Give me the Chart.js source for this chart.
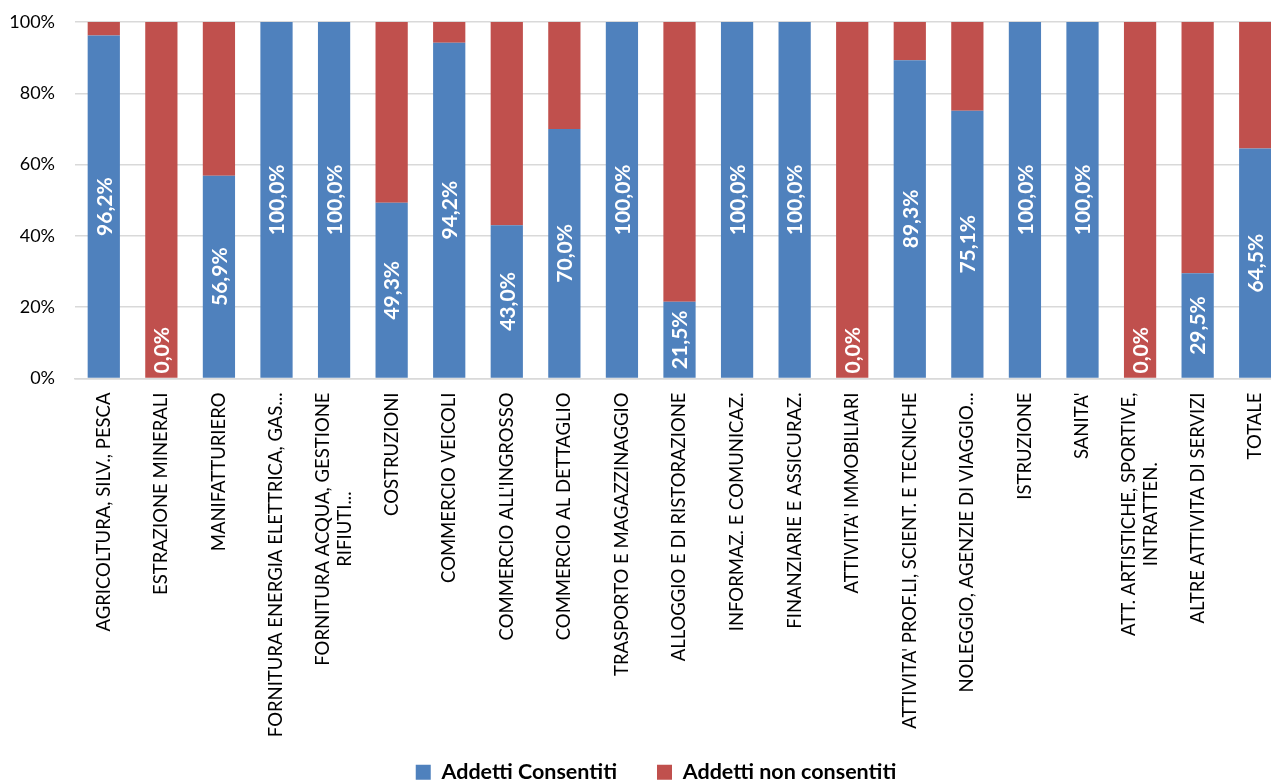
<!DOCTYPE html>
<html>
<head>
<meta charset="utf-8">
<script src="https://cdn.jsdelivr.net/npm/chart.js@4/dist/chart.umd.min.js"></script>
<style>
  html, body { margin: 0; padding: 0; background: #fff; overflow: hidden; }
  #wrap { width: 1310px; height: 781px; }
</style>
</head>
<body>
<div id="wrap"><canvas id="chart"></canvas></div>
<script>
const categories = [
    "AGRICOLTURA, SILV., PESCA",
    "ESTRAZIONE MINERALI",
    "MANIFATTURIERO",
    "FORNITURA ENERGIA ELETTRICA, GAS...",
    ["FORNITURA ACQUA, GESTIONE", "RIFIUTI..."],
    "COSTRUZIONI",
    "COMMERCIO VEICOLI",
    "COMMERCIO ALL'INGROSSO",
    "COMMERCIO AL DETTAGLIO",
    "TRASPORTO E MAGAZZINAGGIO",
    "ALLOGGIO E DI RISTORAZIONE",
    "INFORMAZ. E COMUNICAZ.",
    "FINANZIARIE E ASSICURAZ.",
    "ATTIVITA' IMMOBILIARI",
    "ATTIVITA' PROF.LI, SCIENT. E TECNICHE",
    "NOLEGGIO, AGENZIE DI VIAGGIO...",
    "ISTRUZIONE",
    "SANITA'",
    ["ATT. ARTISTICHE, SPORTIVE,", "INTRATTEN."],
    "ALTRE ATTIVITA DI SERVIZI",
    "TOTALE"
];

const addettiConsentiti = [96.2, 0, 56.9, 100, 100, 49.3, 94.2, 43.0, 70.0, 100, 21.5, 100, 100, 0, 89.3, 75.1, 100, 100, 0, 29.5, 64.5];
const addettiNonConsentiti = [3.8, 100, 43.1, 0, 0, 50.7, 5.8, 57.0, 30.0, 0, 78.5, 0, 0, 100, 10.7, 24.9, 0, 0, 100, 70.5, 35.5];

const yTicks = [0, 20, 40, 60, 80, 100];

const FONT = "Lato, 'Open Sans', sans-serif";
const X_FONT_SIZE = 18.5;

/* white rotated labels inside the blue bars */
const barLabels = {
    id: "barLabels",
    afterDatasetsDraw(chart) {
        const ctx = chart.ctx;
        const meta = chart.getDatasetMeta(0);
        ctx.save();
        ctx.fillStyle = "#ffffff";
        ctx.font = "bold 21px " + FONT;
        ctx.textBaseline = "middle";
        meta.data.forEach((bar, i) => {
            const value = addettiConsentiti[i];
            const text = value.toFixed(1).replace(".", ",") + "%";
            ctx.save();
            if (value === 0) {
                ctx.translate(bar.x, bar.base - 5);
                ctx.rotate(-Math.PI / 2);
                ctx.textAlign = "left";
            } else {
                ctx.translate(bar.x, (bar.y + bar.base) / 2);
                ctx.rotate(-Math.PI / 2);
                ctx.textAlign = "center";
            }
            ctx.fillText(text, 0, 1);
            ctx.restore();
        });
        ctx.restore();
    }
};

/* category labels: vertical, multi-line ones centred on each other */
const categoryLabels = {
    id: "categoryLabels",
    afterDraw(chart) {
        const ctx = chart.ctx;
        const xScale = chart.scales.x;
        const lineHeight = 22;
        ctx.save();
        ctx.fillStyle = "#000";
        ctx.font = X_FONT_SIZE + "px " + FONT;
        ctx.textBaseline = "middle";
        categories.forEach((label, i) => {
            const lines = Array.isArray(label) ? label : [label];
            const widths = lines.map(l => ctx.measureText(l).width);
            const maxW = Math.max(...widths);
            ctx.save();
            ctx.translate(xScale.getPixelForTick(i), xScale.top + 14);
            ctx.rotate(-Math.PI / 2);
            lines.forEach((line, j) => {
                const offset = (j - (lines.length - 1) / 2) * lineHeight;
                if (lines.length === 1) {
                    ctx.textAlign = "right";
                    ctx.fillText(line, 0, offset);
                } else {
                    ctx.textAlign = "center";
                    ctx.fillText(line, -maxW / 2, offset);
                }
            });
            ctx.restore();
        });
        ctx.restore();
    }
};

/* the legend sits a little right of the canvas centre */
const legendShift = {
    id: "legendShift",
    afterLayout(chart) {
        chart.legend.left += 14;
        chart.legend.right += 14;
    }
};

new Chart(document.querySelector("#chart"), {
    type: "bar",
    data: {
        labels: categories,
        datasets: [
            {
                label: "Addetti Consentiti",
                data: addettiConsentiti,
                backgroundColor: "#4F81BD",
                categoryPercentage: 1,
                barPercentage: 0.56
            },
            {
                label: "Addetti non consentiti",
                data: addettiNonConsentiti,
                backgroundColor: "#C0504D",
                categoryPercentage: 1,
                barPercentage: 0.56
            }
        ]
    },
    options: {
        responsive: true,
        maintainAspectRatio: false,
        animation: false,
        layout: {
            padding: { top: 22, right: 26, left: 0, bottom: -12 }
        },
        plugins: {
            legend: {
                position: "bottom",
                labels: {
                    boxWidth: 15,
                    boxHeight: 15,
                    padding: 40,
                    color: "#000",
                    font: { family: FONT, size: 21.5, weight: "bold" }
                }
            },
            tooltip: { enabled: false }
        },
        scales: {
            x: {
                stacked: true,
                grid: { display: false, drawTicks: false },
                border: { color: "#d9d9d9", width: 1.5 },
                afterFit: axis => {
                    axis.height = 343;
                },
                ticks: {
                    autoSkip: false,
                    maxRotation: 90,
                    minRotation: 90,
                    padding: 12,
                    color: "rgba(0,0,0,0)",
                    font: { family: FONT, size: X_FONT_SIZE }
                }
            },
            y: {
                stacked: true,
                min: 0,
                max: 100,
                afterBuildTicks: axis => {
                    axis.ticks = yTicks.map(v => ({ value: v }));
                },
                afterFit: axis => {
                    axis.width = 75;
                },
                grid: {
                    color: "#d9d9d9",
                    lineWidth: 1.5,
                    drawTicks: true,
                    tickLength: 20,
                    tickColor: "rgba(0,0,0,0)"
                },
                border: { display: false },
                ticks: {
                    padding: 0,
                    color: "#000",
                    font: { family: FONT, size: 18 },
                    callback: v => v + "%"
                }
            }
        }
    },
    plugins: [barLabels, categoryLabels, legendShift]
});
</script>
</body>
</html>
